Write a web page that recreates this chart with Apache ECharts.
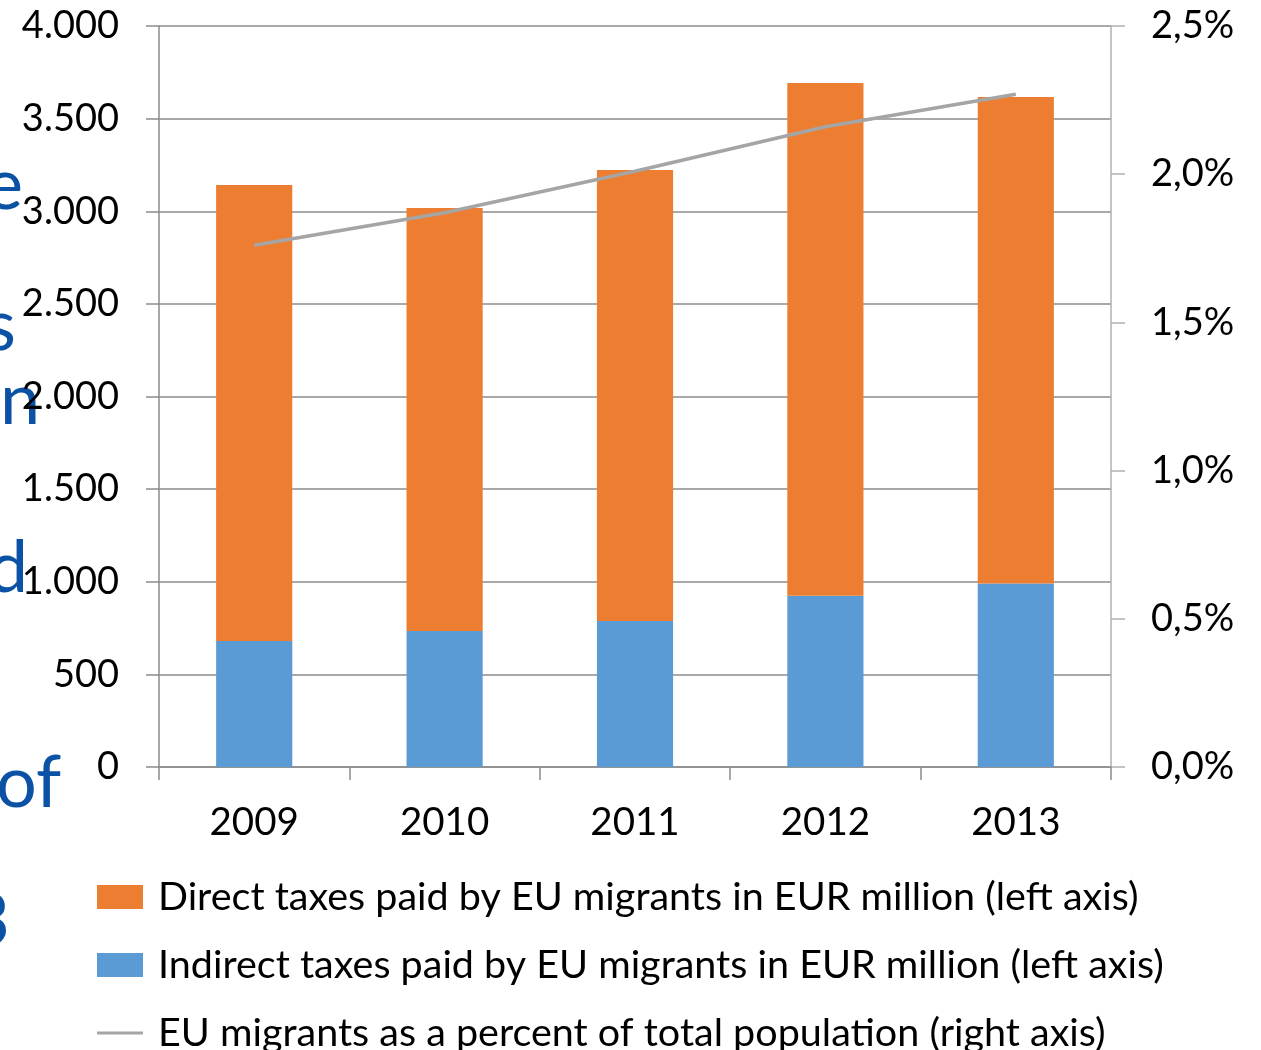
<!DOCTYPE html>
<html>
<head>
<meta charset="utf-8">
<script src="https://cdn.jsdelivr.net/npm/echarts@6/dist/echarts.min.js"></script>
<style>
  html, body { margin: 0; padding: 0; background: #fff; }
  #chart { width: 1261px; height: 1050px; }
</style>
</head>
<body>
<div id="chart"></div>
<script>
// Years on the category axis
const years = ['2009', '2010', '2011', '2012', '2013'];
// Taxes paid by EU migrants, EUR million (left axis)
const indirectTaxes = [680, 734, 788, 925, 991];
const directTaxes = [2462, 2284, 2435, 2767, 2626];
// EU migrants as share of total population, percent (right axis)
const migrantShare = [1.76, 1.87, 2.01, 2.16, 2.27];
// Axis tick settings
const leftTicks = { min: 0, max: 4000, interval: 500 };
const rightTicks = { min: 0, max: 2.5, interval: 0.5 };

const seriesNames = {
  direct: 'Direct taxes paid by EU migrants in EUR million (left axis)',
  indirect: 'Indirect taxes paid by EU migrants in EUR million (left axis)',
  share: 'EU migrants as a percent of total population (right axis)'
};

const FONT = 'Lato, "Open Sans", sans-serif';
const AXIS_GRAY = '#8c8c8c';
const TEXT_BLUE = '#0b52a4';

function fmtThousands(v) {
  return String(v).replace(/\B(?=(\d{3})+(?!\d))/g, '.');
}

// Fragments of slide text running along the left edge
const sideText = [
  { t: 'e', x: 23, y: 186, align: 'right' },
  { t: 's', x: 16, y: 327, align: 'right' },
  { t: 'n', x: 0, y: 401, align: 'left' },
  { t: 'd', x: 28, y: 569, align: 'right' },
  { t: 'of', x: -4, y: 784, align: 'left' },
  { t: '3', x: 10, y: 922, align: 'right' }
];

const chart = echarts.init(document.getElementById('chart'), null, { renderer: 'canvas' });

chart.setOption({
  animation: false,
  backgroundColor: '#ffffff',
  textStyle: { fontFamily: FONT },
  grid: { left: 159, right: 150, top: 26, bottom: 283, containLabel: false },
  legend: {
    orient: 'vertical',
    left: 97,
    top: 877,
    height: 240,
    padding: 0,
    itemWidth: 46,
    itemHeight: 24,
    itemGap: 28,
    textStyle: { fontFamily: FONT, fontSize: 39.5, color: '#000', padding: [0, 0, 0, 10] },
    data: [
      { name: seriesNames.direct, icon: 'rect' },
      { name: seriesNames.indirect, icon: 'rect' },
      { name: seriesNames.share, icon: 'path://M0,0H46V3H0Z' }
    ]
  },
  xAxis: {
    type: 'category',
    data: years,
    boundaryGap: true,
    axisLine: { show: true, lineStyle: { color: AXIS_GRAY, width: 1.5 } },
    axisTick: { show: true, length: 13, alignWithLabel: false, lineStyle: { color: AXIS_GRAY, width: 1.5 } },
    axisLabel: { color: '#000', fontSize: 38.5, fontFamily: FONT, margin: 36 },
    splitLine: { show: false }
  },
  yAxis: [
    {
      type: 'value',
      position: 'left',
      min: leftTicks.min,
      max: leftTicks.max,
      interval: leftTicks.interval,
      axisLine: { show: true, lineStyle: { color: AXIS_GRAY, width: 1.5 } },
      axisTick: { show: true, length: 13, lineStyle: { color: AXIS_GRAY, width: 1.5 } },
      axisLabel: { color: '#000', fontSize: 38, fontFamily: FONT, margin: 40, formatter: fmtThousands },
      splitLine: { show: true, lineStyle: { color: AXIS_GRAY, width: 1.5 } }
    },
    {
      type: 'value',
      position: 'right',
      min: rightTicks.min,
      max: rightTicks.max,
      interval: rightTicks.interval,
      axisLine: { show: true, lineStyle: { color: '#b0b0b0', width: 1.5 } },
      axisTick: { show: true, length: 14, lineStyle: { color: '#b0b0b0', width: 1.5 } },
      axisLabel: {
        color: '#000', fontSize: 38, fontFamily: FONT, margin: 40,
        formatter: v => v.toFixed(1).replace('.', ',') + '%'
      },
      splitLine: { show: false }
    }
  ],
  series: [
    {
      name: seriesNames.indirect,
      type: 'bar',
      stack: 'taxes',
      yAxisIndex: 0,
      barWidth: '40%',
      itemStyle: { color: '#5b9bd5' },
      data: indirectTaxes
    },
    {
      name: seriesNames.direct,
      type: 'bar',
      stack: 'taxes',
      yAxisIndex: 0,
      barWidth: '40%',
      itemStyle: { color: '#ed7d31' },
      data: directTaxes
    },
    {
      name: seriesNames.share,
      type: 'line',
      yAxisIndex: 1,
      symbol: 'none',
      lineStyle: { color: '#a5a5a5', width: 3.5 },
      itemStyle: { color: '#a5a5a5' },
      z: 5,
      data: migrantShare
    }
  ],
  graphic: sideText.map(s => ({
    type: 'text',
    z: 0,
    style: {
      text: s.t,
      x: s.x,
      y: s.y,
      fill: TEXT_BLUE,
      font: '72px ' + FONT,
      textAlign: s.align,
      textVerticalAlign: 'middle'
    }
  }))
});
</script>
</body>
</html>
